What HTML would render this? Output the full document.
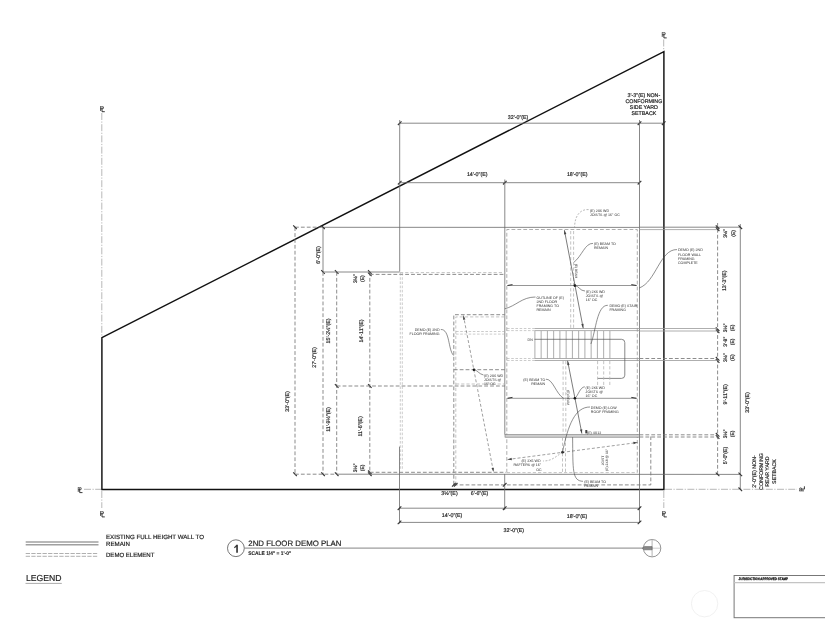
<!DOCTYPE html>
<html><head><meta charset="utf-8"><style>
html,body{margin:0;padding:0;background:#fff;}
svg{display:block;filter:grayscale(1) blur(0.3px);}
text{font-family:"Liberation Sans",sans-serif;text-rendering:geometricPrecision;}
.t{fill:#222;stroke:#222;stroke-width:0.18;}
.tb{fill:#222;font-weight:bold;stroke:#222;stroke-width:0.1;}
.pl{fill:#222;font-family:"Liberation Sans",sans-serif;}
.plp{fill:none;stroke:#222;stroke-width:0.9;}
.k{fill:none;stroke:#111;stroke-width:1.45;}
.d{fill:none;stroke:#6a6a6a;stroke-width:0.8;}
.g{fill:none;stroke:#999;stroke-width:0.8;}
.dd{fill:none;stroke:#777;stroke-width:0.85;stroke-dasharray:3.8 2.1;}
.ld{fill:none;stroke:#b4b4b4;stroke-width:0.8;stroke-dasharray:3.2 2;}
.c{fill:none;stroke:#999;stroke-width:0.7;stroke-dasharray:7 1.5 1.2 1.5;}
.tk{fill:none;stroke:#333;stroke-width:1.1;}
.band{fill:#cfcfcf;stroke:#777;stroke-width:0.6;}
.lg{stroke:#a0a0a0;stroke-width:1.4;}
.lgd{stroke:#b0b0b0;stroke-width:1.0;stroke-dasharray:4.3 1.3;}
.ul{stroke:#888;stroke-width:0.7;}
.tl{stroke:#777;stroke-width:0.9;}
.cir{fill:none;stroke:#666;stroke-width:0.9;}
.cir2{fill:none;stroke:#666;stroke-width:0.7;}
.na{stroke:#aaa;stroke-width:0.9;}
.na2{stroke:#999;stroke-width:0.5;}
.naf{fill:#888;stroke:#555;stroke-width:0.5;}
.stamp{fill:none;stroke:#777;stroke-width:1.0;}
.stl{stroke:#c4c4c4;stroke-width:1.2;}
.st{stroke:#8a8a8a;stroke-width:0.7;}
.wl{fill:none;stroke:#555;stroke-width:0.7;}
.bm{fill:none;stroke:#8a8a8a;stroke-width:0.9;}
.bma{fill:none;stroke:#333;stroke-width:1.0;}
.ar{stroke:#444;stroke-width:0.7;}
.ah{fill:#444;}
.da{stroke:#777;stroke-width:0.7;stroke-dasharray:3 2;}
.lea{fill:none;stroke:#444;stroke-width:0.6;}
.ldd{fill:none;stroke:#888;stroke-width:0.6;stroke-dasharray:2 1.5;}
.ld2{fill:none;stroke:#aaa;stroke-width:0.6;stroke-dasharray:2.6 1.6;}
.dm{fill:none;stroke:#999;stroke-width:0.8;stroke-dasharray:3.8 2.1;}
.tb2{fill:#111;font-weight:bold;stroke:#111;stroke-width:0.25;}
.ta{fill:#2a2a2a;}
.wm{fill:none;stroke:#eee;stroke-width:0.8;}
</style></head><body>
<svg width="825" height="625" viewBox="0 0 825 625">
<path d="M101.9 337.7 L663.9 51.6 L663.9 489.5 L101.9 489.5 Z" class="k"/>
<line x1="101.8" y1="113" x2="101.8" y2="337" class="c"/>
<line x1="663.7" y1="39.5" x2="663.7" y2="51" class="c"/>
<line x1="84" y1="489.3" x2="101" y2="489.3" class="c"/>
<line x1="101.8" y1="491" x2="101.8" y2="508" class="c"/>
<line x1="663.8" y1="491" x2="663.8" y2="508" class="c"/>
<line x1="665" y1="489.3" x2="797" y2="489.3" class="c"/>
<g><text x="101.8" y="110.89999999999999" font-size="7" text-anchor="middle" class="pl">P</text><path d="M102.0 107.3 L102.0 111.7 L104.8 111.7" class="plp"/></g>
<g><text x="663.7" y="37.1" font-size="7" text-anchor="middle" class="pl">P</text><path d="M663.9000000000001 33.5 L663.9000000000001 37.9 L666.7 37.9" class="plp"/></g>
<g><text x="79.5" y="491.8" font-size="7" text-anchor="middle" class="pl">P</text><path d="M79.7 488.2 L79.7 492.59999999999997 L82.5 492.59999999999997" class="plp"/></g>
<g><text x="101.8" y="516.1" font-size="7" text-anchor="middle" class="pl">P</text><path d="M102.0 512.5 L102.0 516.9 L104.8 516.9" class="plp"/></g>
<g><text x="663.8" y="516.1" font-size="7" text-anchor="middle" class="pl">P</text><path d="M664.0 512.5 L664.0 516.9 L666.8 516.9" class="plp"/></g>
<g transform="rotate(-90 801 489.3)"><text x="801" y="491.90000000000003" font-size="7" text-anchor="middle" class="pl">P</text><path d="M801.2 488.3 L801.2 492.7 L804 492.7" class="plp"/></g>
<line x1="399.7" y1="123.2" x2="663.7" y2="123.2" class="d"/>
<line x1="397.9" y1="125.0" x2="401.5" y2="121.4" class="tk"/>
<line x1="637.7" y1="125.0" x2="641.3" y2="121.4" class="tk"/>
<line x1="661.9000000000001" y1="125.0" x2="665.5" y2="121.4" class="tk"/>
<line x1="399.7" y1="182.7" x2="639.5" y2="182.7" class="d"/>
<line x1="397.9" y1="184.5" x2="401.5" y2="180.89999999999998" class="tk"/>
<line x1="503.0" y1="184.5" x2="506.6" y2="180.89999999999998" class="tk"/>
<line x1="637.7" y1="184.5" x2="641.3" y2="180.89999999999998" class="tk"/>
<line x1="399.7" y1="120" x2="399.7" y2="271.5" class="d"/>
<line x1="639.5" y1="120" x2="639.5" y2="227.2" class="d"/>
<line x1="504.8" y1="179.5" x2="504.8" y2="434.5" class="d"/>
<text x="518.1" y="119.2" font-size="5.3" text-anchor="middle" class="t">32'-0"(E)</text>
<text x="477.2" y="176" font-size="5.3" text-anchor="middle" class="t">14'-0"(E)</text>
<text x="577.2" y="176" font-size="5.3" text-anchor="middle" class="t">18'-0"(E)</text>
<text x="643.9" y="96.7" font-size="5.3" text-anchor="middle" class="t">3'-3"(E) NON-</text>
<text x="643.9" y="102.87" font-size="5.3" text-anchor="middle" class="t">CONFORMING</text>
<text x="643.9" y="109.04" font-size="5.3" text-anchor="middle" class="t">SIDE YARD</text>
<text x="643.9" y="115.21000000000001" font-size="5.3" text-anchor="middle" class="t">SETBACK</text>
<line x1="295" y1="227.2" x2="323" y2="227.2" class="dd"/>
<line x1="323" y1="227.3" x2="639.5" y2="227.4" class="d"/>
<line x1="295" y1="227.2" x2="295" y2="474.2" class="dd"/>
<line x1="293.2" y1="225.39999999999998" x2="296.8" y2="229.0" class="tk"/>
<line x1="293.2" y1="472.4" x2="296.8" y2="476.0" class="tk"/>
<line x1="323" y1="227.2" x2="323" y2="272" class="d"/>
<line x1="321.2" y1="225.39999999999998" x2="324.8" y2="229.0" class="tk"/>
<line x1="321.2" y1="270.2" x2="324.8" y2="273.8" class="tk"/>
<line x1="323" y1="272" x2="323" y2="474.2" class="dd"/>
<line x1="321.2" y1="472.4" x2="324.8" y2="476.0" class="tk"/>
<line x1="336.7" y1="272" x2="336.7" y2="474.2" class="dd"/>
<line x1="334.9" y1="270.2" x2="338.5" y2="273.8" class="tk"/>
<line x1="334.9" y1="384.2" x2="338.5" y2="387.8" class="tk"/>
<line x1="334.9" y1="472.4" x2="338.5" y2="476.0" class="tk"/>
<line x1="369.8" y1="272" x2="369.8" y2="474.2" class="dd"/>
<line x1="368.0" y1="270.2" x2="371.6" y2="273.8" class="tk"/>
<line x1="368.0" y1="272.59999999999997" x2="371.6" y2="276.2" class="tk"/>
<line x1="368.0" y1="384.2" x2="371.6" y2="387.8" class="tk"/>
<line x1="368.0" y1="470.5" x2="371.6" y2="474.1" class="tk"/>
<line x1="368.0" y1="472.4" x2="371.6" y2="476.0" class="tk"/>
<line x1="323" y1="272" x2="399.7" y2="272" class="d"/>
<line x1="369.8" y1="274.4" x2="505" y2="274.4" class="dd"/>
<line x1="400" y1="272.6" x2="505" y2="272.6" class="ld"/>
<line x1="336.7" y1="386" x2="505" y2="386" class="dd"/>
<line x1="295" y1="474.2" x2="336.7" y2="474.2" class="dd"/>
<line x1="336.7" y1="474.2" x2="740.3" y2="474.4" class="d"/>
<line x1="369.8" y1="472.3" x2="506" y2="472.3" class="dd"/>
<text x="289" y="401.5" font-size="5.3" text-anchor="middle" class="t" transform="rotate(-90 289 401.5)">33'-0"(E)</text>
<text x="319.5" y="255" font-size="5.3" text-anchor="middle" class="t" transform="rotate(-90 319.5 255)">6'-0"(E)</text>
<text x="316.3" y="357.5" font-size="5.3" text-anchor="middle" class="t" transform="rotate(-90 316.3 357.5)">27'-0"(E)</text>
<text x="330" y="331" font-size="5.3" text-anchor="middle" class="t" transform="rotate(-90 330 331)">15'-2&#189;"(E)</text>
<text x="330.4" y="419.4" font-size="5.3" text-anchor="middle" class="t" transform="rotate(-90 330.4 419.4)">11'-9&#189;"(E)</text>
<text x="363.3" y="331" font-size="5.3" text-anchor="middle" class="t" transform="rotate(-90 363.3 331)">14'-11"(E)</text>
<text x="362.1" y="426.4" font-size="5.3" text-anchor="middle" class="t" transform="rotate(-90 362.1 426.4)">11'-6"(E)</text>
<text x="357.4" y="278.6" font-size="5.0" text-anchor="middle" class="t" transform="rotate(-90 357.4 278.6)">3&#189;"</text>
<text x="364.2" y="278.6" font-size="5.0" text-anchor="middle" class="t" transform="rotate(-90 364.2 278.6)">(E)</text>
<text x="357.4" y="467.8" font-size="5.0" text-anchor="middle" class="t" transform="rotate(-90 357.4 467.8)">3&#189;"</text>
<text x="364.2" y="467.8" font-size="5.0" text-anchor="middle" class="t" transform="rotate(-90 364.2 467.8)">(E)</text>
<line x1="400.3" y1="273" x2="400.3" y2="470.5" class="ld2"/>
<line x1="402.3" y1="273" x2="402.3" y2="470.5" class="ld2"/>
<line x1="639.5" y1="227.2" x2="639.5" y2="523" class="d"/>
<path d="M506.8 472.6 L506.8 229.5 L637.3 229.5 L637.3 472.6" class="dm"/>
<line x1="506.8" y1="472.6" x2="637.3" y2="472.6" class="ld"/>
<rect x="505" y="434.6" width="134.5" height="2.6" class="band"/>
<path d="M453.8 484.6 L453.8 314.7 L504.8 314.7" class="dd"/>
<path d="M455.8 484.6 L455.8 316.9 L504.8 316.9" class="ld"/>
<line x1="456" y1="331.5" x2="504.8" y2="331.5" class="ld2"/>
<line x1="456" y1="334.1" x2="504.8" y2="334.1" class="ld2"/>
<line x1="453.8" y1="369.7" x2="504.8" y2="369.7" class="dd"/>
<line x1="456" y1="384" x2="504.8" y2="384" class="ld"/>
<path d="M453.8 484.9 L650.8 484.9 L650.8 436.5" class="dd"/>
<line x1="504.7" y1="474" x2="504.7" y2="510" class="d"/>
<line x1="399.5" y1="446.6" x2="399.5" y2="523.5" class="d"/>
<line x1="399.5" y1="508.2" x2="639.5" y2="508.2" class="d"/>
<line x1="397.7" y1="510.0" x2="401.3" y2="506.4" class="tk"/>
<line x1="502.9" y1="510.0" x2="506.5" y2="506.4" class="tk"/>
<line x1="637.7" y1="510.0" x2="641.3" y2="506.4" class="tk"/>
<line x1="399.5" y1="522.4" x2="639.5" y2="522.4" class="d"/>
<line x1="397.7" y1="524.1999999999999" x2="401.3" y2="520.6" class="tk"/>
<line x1="637.7" y1="524.1999999999999" x2="641.3" y2="520.6" class="tk"/>
<line x1="452.0" y1="486.6" x2="455.6" y2="483.0" class="tk"/>
<line x1="453.9" y1="486.6" x2="457.5" y2="483.0" class="tk"/>
<line x1="502.9" y1="486.6" x2="506.5" y2="483.0" class="tk"/>
<text x="452.1" y="517" font-size="5.3" text-anchor="middle" class="t">14'-0"(E)</text>
<text x="577" y="517.5" font-size="5.3" text-anchor="middle" class="t">18'-0"(E)</text>
<text x="513.8" y="531.5" font-size="5.3" text-anchor="middle" class="t">32'-0"(E)</text>
<text x="449.5" y="494.5" font-size="5.3" text-anchor="middle" class="t">3&#189;"(E)</text>
<text x="479.5" y="494.5" font-size="5.3" text-anchor="middle" class="t">6'-6"(E)</text>
<line x1="639.5" y1="227.2" x2="740.5" y2="227.2" class="d"/>
<line x1="639.5" y1="229.6" x2="717.6" y2="229.6" class="g"/>
<line x1="717.6" y1="223" x2="717.6" y2="474.4" class="dd"/>
<line x1="740.3" y1="224" x2="740.3" y2="489.5" class="d"/>
<line x1="715.8000000000001" y1="225.39999999999998" x2="719.4" y2="229.0" class="tk"/>
<line x1="715.8000000000001" y1="227.39999999999998" x2="719.4" y2="231.0" class="tk"/>
<line x1="738.5" y1="225.39999999999998" x2="742.0999999999999" y2="229.0" class="tk"/>
<line x1="715.8000000000001" y1="327.4" x2="719.4" y2="331.0" class="tk"/>
<line x1="715.8000000000001" y1="329.5" x2="719.4" y2="333.1" class="tk"/>
<line x1="715.8000000000001" y1="357.0" x2="719.4" y2="360.6" class="tk"/>
<line x1="715.8000000000001" y1="359.2" x2="719.4" y2="362.8" class="tk"/>
<line x1="715.8000000000001" y1="433.0" x2="719.4" y2="436.6" class="tk"/>
<line x1="715.8000000000001" y1="435.2" x2="719.4" y2="438.8" class="tk"/>
<line x1="715.8000000000001" y1="472.59999999999997" x2="719.4" y2="476.2" class="tk"/>
<line x1="738.5" y1="472.59999999999997" x2="742.0999999999999" y2="476.2" class="tk"/>
<line x1="738.5" y1="487.5" x2="742.0999999999999" y2="491.1" class="tk"/>
<line x1="639.5" y1="328.5" x2="717.6" y2="328.5" class="g"/>
<line x1="639.5" y1="331" x2="717.6" y2="331" class="g"/>
<line x1="639.5" y1="358.5" x2="717.6" y2="358.5" class="dd"/>
<line x1="639.5" y1="360.5" x2="717.6" y2="360.5" class="g"/>
<line x1="639.5" y1="434.8" x2="717.6" y2="434.8" class="dd"/>
<line x1="639.5" y1="437" x2="717.6" y2="437" class="dd"/>
<text x="726.9" y="233.4" font-size="5.0" text-anchor="middle" class="t" transform="rotate(-90 726.9 233.4)">3&#189;"</text>
<text x="735.1" y="233.4" font-size="5.0" text-anchor="middle" class="t" transform="rotate(-90 735.1 233.4)">(E)</text>
<text x="725.7" y="280.8" font-size="5.3" text-anchor="middle" class="t" transform="rotate(-90 725.7 280.8)">13'-3"(E)</text>
<text x="726.6" y="327.9" font-size="5.0" text-anchor="middle" class="t" transform="rotate(-90 726.6 327.9)">3&#189;"</text>
<text x="734.3" y="327.9" font-size="5.0" text-anchor="middle" class="t" transform="rotate(-90 734.3 327.9)">(E)</text>
<text x="726.6" y="341.8" font-size="5.0" text-anchor="middle" class="t" transform="rotate(-90 726.6 341.8)">3'-8"</text>
<text x="734.3" y="341.8" font-size="5.0" text-anchor="middle" class="t" transform="rotate(-90 734.3 341.8)">(E)</text>
<text x="726.6" y="357.6" font-size="5.0" text-anchor="middle" class="t" transform="rotate(-90 726.6 357.6)">3&#189;"</text>
<text x="734.3" y="357.6" font-size="5.0" text-anchor="middle" class="t" transform="rotate(-90 734.3 357.6)">(E)</text>
<text x="727.3" y="394.3" font-size="5.3" text-anchor="middle" class="t" transform="rotate(-90 727.3 394.3)">9'-11"(E)</text>
<text x="726.6" y="433.8" font-size="5.0" text-anchor="middle" class="t" transform="rotate(-90 726.6 433.8)">3&#189;"</text>
<text x="734.3" y="433.8" font-size="5.0" text-anchor="middle" class="t" transform="rotate(-90 734.3 433.8)">(E)</text>
<text x="727.3" y="455.5" font-size="5.3" text-anchor="middle" class="t" transform="rotate(-90 727.3 455.5)">5'-0"(E)</text>
<text x="749" y="402.5" font-size="5.3" text-anchor="middle" class="t" transform="rotate(-90 749 402.5)">33'-0"(E)</text>
<text x="756.0" y="471.5" font-size="5.3" text-anchor="middle" class="t" transform="rotate(-90 756.0 471.5)">2'-0"(E) NON-</text>
<text x="762.5" y="471.5" font-size="5.3" text-anchor="middle" class="t" transform="rotate(-90 762.5 471.5)">CONFORMING</text>
<text x="769.0" y="471.5" font-size="5.3" text-anchor="middle" class="t" transform="rotate(-90 769.0 471.5)">REAR YARD</text>
<text x="775.5" y="471.5" font-size="5.3" text-anchor="middle" class="t" transform="rotate(-90 775.5 471.5)">SETBACK</text>
<line x1="534.9" y1="330.9" x2="534.9" y2="358.5" class="st"/>
<line x1="541.15" y1="330.9" x2="541.15" y2="358.5" class="st"/>
<line x1="547.4" y1="330.9" x2="547.4" y2="358.5" class="st"/>
<line x1="553.65" y1="330.9" x2="553.65" y2="358.5" class="st"/>
<line x1="559.9" y1="330.9" x2="559.9" y2="358.5" class="st"/>
<line x1="566.15" y1="330.9" x2="566.15" y2="358.5" class="st"/>
<line x1="572.4" y1="330.9" x2="572.4" y2="358.5" class="st"/>
<line x1="578.65" y1="330.9" x2="578.65" y2="358.5" class="st"/>
<line x1="584.9" y1="330.9" x2="584.9" y2="358.5" class="st"/>
<line x1="591.15" y1="330.9" x2="591.15" y2="358.5" class="st"/>
<line x1="597.4" y1="330.9" x2="597.4" y2="358.5" class="st"/>
<line x1="603.65" y1="330.9" x2="603.65" y2="358.5" class="st"/>
<line x1="609.9" y1="330.9" x2="609.9" y2="358.5" class="st"/>
<line x1="534.5" y1="328.5" x2="639.5" y2="328.5" class="g"/>
<line x1="534.5" y1="330.6" x2="639.5" y2="330.6" class="g"/>
<line x1="534.5" y1="358.5" x2="639.5" y2="358.5" class="g"/>
<line x1="534.5" y1="360.5" x2="639.5" y2="360.5" class="g"/>
<line x1="507" y1="328.5" x2="534.5" y2="328.5" class="ld2"/>
<line x1="507" y1="330.6" x2="534.5" y2="330.6" class="ld2"/>
<line x1="507" y1="358.5" x2="534.5" y2="358.5" class="ld2"/>
<line x1="507" y1="360.5" x2="534.5" y2="360.5" class="ld2"/>
<path d="M534.5 339.3 L621.5 339.3 Q624.8 339.3 624.8 342.6 L624.8 375.2 Q624.8 378.4 621.5 378.4 L597.6 378.4" class="wl"/>
<text x="530.2" y="340.6" font-size="3.6" text-anchor="middle" class="ta">DN</text>
<line x1="570.7" y1="231" x2="570.7" y2="328.5" class="ld"/>
<line x1="573.6" y1="231" x2="573.6" y2="328.5" class="ld"/>
<line x1="563.1" y1="361" x2="563.1" y2="434" class="ld"/>
<line x1="565.8" y1="361" x2="565.8" y2="434" class="ld"/>
<line x1="597.6" y1="361" x2="597.6" y2="387" class="ld"/>
<line x1="603.7" y1="361" x2="603.7" y2="387" class="ld"/>
<line x1="609.8" y1="361" x2="609.8" y2="387" class="ld"/>
<line x1="562.5" y1="437.5" x2="562.5" y2="472.5" class="ld"/>
<line x1="565.5" y1="437.5" x2="565.5" y2="472.5" class="ld"/>
<line x1="507.5" y1="285.5" x2="636.5" y2="285.5" class="bm"/>
<line x1="507.5" y1="398.3" x2="636.5" y2="398.3" class="bm"/>
<path d="M507.5 285.5 L512.5 284.6" class="bma"/>
<path d="M636.5 285.5 L631.3 284.6" class="bma"/>
<path d="M507.5 398.3 L512.5 397.4" class="bma"/>
<path d="M636.5 398.3 L631.3 397.4" class="bma"/>
<line x1="564.4" y1="230.2" x2="583.2" y2="328.2" class="ar"/>
<path d="M564.40 230.20 L566.37 234.10 L564.01 234.55 Z" class="ah"/>
<path d="M583.20 328.20 L581.23 324.30 L583.59 323.85 Z" class="ah"/>
<line x1="567.6" y1="360.8" x2="581.9" y2="433.6" class="ar"/>
<path d="M567.60 360.80 L569.59 364.69 L567.23 365.15 Z" class="ah"/>
<path d="M581.90 433.60 L579.91 429.71 L582.27 429.25 Z" class="ah"/>
<line x1="463.4" y1="315.5" x2="493.5" y2="472" class="da"/>
<path d="M463.40 315.50 L465.37 319.40 L463.01 319.85 Z" class="ah"/>
<path d="M493.50 472.00 L491.53 468.10 L493.89 467.65 Z" class="ah"/>
<line x1="507.6" y1="459.5" x2="637.6" y2="442.5" class="da"/>
<path d="M507.60 459.50 L511.61 457.77 L511.92 460.15 Z" class="ah"/>
<path d="M637.60 442.50 L633.59 444.23 L633.28 441.85 Z" class="ah"/>
<circle cx="574.9" cy="285.6" r="1.3" fill="#111"/>
<circle cx="474" cy="369.7" r="1.3" fill="#111"/>
<circle cx="574.9" cy="398.3" r="1.3" fill="#111"/>
<circle cx="562.5" cy="452.3" r="1.3" fill="#111"/>
<path d="M588.6 209.6 C580 209 574.6 216 574.6 227.5" class="ldd"/>
<path d="M593 243.4 C585 243 582 256 573.8 262.4" class="lea"/>
<path d="M677 249.6 C660 249 656 282 639.2 288" class="lea"/>
<path d="M574.9 285.6 C579 286 580 291 585 291" class="lea"/>
<path d="M535.5 297 C522 297 516 306 504.8 308.8" class="lea"/>
<path d="M607.8 305.3 C597 305 596 330 590.9 344" class="lea"/>
<path d="M440.8 329.5 C450 329 448 350 453.6 355.5" class="lea"/>
<path d="M474 369.7 C477 370 479 374 483.5 375" class="lea"/>
<path d="M546 379.2 C553 379 556 394 563.6 398.3" class="lea"/>
<path d="M574.9 398.3 C578 396 580 387 584.8 386.8" class="lea"/>
<path d="M590 407 C575 407 568 425 562.5 452.3" class="lea"/>
<path d="M562.5 452.3 C555 457 552 461 543 461" class="ldd"/>
<path d="M583 481.3 C572 481 573 470 572.6 437.2" class="lea"/>
<text x="589.9" y="211.7" font-size="3.6" text-anchor="start" class="ta">(E) 2X6 WD</text>
<text x="589.9" y="215.9" font-size="3.6" text-anchor="start" class="ta">JOISTS @ 16" OC</text>
<text x="594" y="245.2" font-size="3.6" text-anchor="start" class="ta">(E) BEAM TO</text>
<text x="594" y="249.4" font-size="3.6" text-anchor="start" class="ta">REMAIN</text>
<text x="678" y="251.3" font-size="3.6" text-anchor="start" class="ta">DEMO (E) 2ND</text>
<text x="678" y="255.5" font-size="3.6" text-anchor="start" class="ta">FLOOR WALL</text>
<text x="678" y="259.7" font-size="3.6" text-anchor="start" class="ta">FRAMING</text>
<text x="678" y="263.9" font-size="3.6" text-anchor="start" class="ta">COMPLETE</text>
<text x="585.8" y="292.6" font-size="3.6" text-anchor="start" class="ta">(E) 2X6 WD</text>
<text x="585.8" y="296.8" font-size="3.6" text-anchor="start" class="ta">JOISTS @</text>
<text x="585.8" y="301.0" font-size="3.6" text-anchor="start" class="ta">16" OC</text>
<text x="536.5" y="298.6" font-size="3.6" text-anchor="start" class="ta">OUTLINE OF (E)</text>
<text x="536.5" y="302.8" font-size="3.6" text-anchor="start" class="ta">2ND FLOOR</text>
<text x="536.5" y="307.0" font-size="3.6" text-anchor="start" class="ta">FRAMING TO</text>
<text x="536.5" y="311.2" font-size="3.6" text-anchor="start" class="ta">REMAIN</text>
<text x="609.4" y="307.0" font-size="3.6" text-anchor="start" class="ta">DEMO (E) STAIR</text>
<text x="609.4" y="311.2" font-size="3.6" text-anchor="start" class="ta">FRAMING</text>
<text x="439.5" y="331.1" font-size="3.6" text-anchor="end" class="ta">DEMO (E) 2ND</text>
<text x="439.5" y="335.3" font-size="3.6" text-anchor="end" class="ta">FLOOR FRAMING</text>
<text x="484" y="376.6" font-size="3.6" text-anchor="start" class="ta">(E) 2X6 WD</text>
<text x="484" y="380.8" font-size="3.6" text-anchor="start" class="ta">JOISTS @</text>
<text x="484" y="385.0" font-size="3.6" text-anchor="start" class="ta">16" OC</text>
<text x="545.2" y="380.8" font-size="3.6" text-anchor="end" class="ta">(E) BEAM TO</text>
<text x="545.2" y="385.0" font-size="3.6" text-anchor="end" class="ta">REMAIN</text>
<text x="585.6" y="388.9" font-size="3.6" text-anchor="start" class="ta">(E) 2X6 WD</text>
<text x="585.6" y="393.1" font-size="3.6" text-anchor="start" class="ta">JOISTS @</text>
<text x="585.6" y="397.3" font-size="3.6" text-anchor="start" class="ta">16" OC</text>
<text x="590.8" y="408.6" font-size="3.6" text-anchor="start" class="ta">DEMO (E) LOW</text>
<text x="590.8" y="412.8" font-size="3.6" text-anchor="start" class="ta">ROOF FRAMING</text>
<text x="587" y="434.2" font-size="3.6" text-anchor="start" class="ta">(E) 4X12</text>
<text x="584.2" y="482.8" font-size="3.6" text-anchor="start" class="ta">(E) BEAM TO</text>
<text x="584.2" y="487.0" font-size="3.6" text-anchor="start" class="ta">REMAIN</text>
<text x="531" y="461.9" font-size="3.6" text-anchor="middle" class="ta">(E) 2X6 WD</text>
<text x="527.3" y="466.3" font-size="3.6" text-anchor="middle" class="ta">RAFTERS @ 16"</text>
<text x="538.9" y="470.7" font-size="3.6" text-anchor="middle" class="ta">OC</text>
<text x="574.9" y="271" font-size="3.3" text-anchor="middle" class="ta" transform="rotate(90 574.9 271)">(E) BEAM</text>
<text x="567.1" y="397.6" font-size="3.3" text-anchor="middle" class="ta" transform="rotate(90 567.1 397.6)">(E) BEAM</text>
<text x="603.6" y="460.5" font-size="3.4" text-anchor="middle" class="ta" transform="rotate(-90 603.6 460.5)">JOIST</text>
<text x="607.8" y="460" font-size="3.4" text-anchor="middle" class="ta" transform="rotate(-90 607.8 460)">(E) 2X8 @ 16"</text>
<rect x="585.3" y="430" width="2" height="3.4" fill="#444"/>
<line x1="25.7" y1="542.0" x2="98.5" y2="542.0" class="lg"/>
<line x1="25.7" y1="544.8" x2="98.5" y2="544.8" class="lg"/>
<line x1="25.7" y1="553.5" x2="98.5" y2="553.5" class="lgd"/>
<line x1="25.7" y1="556.3" x2="98.5" y2="556.3" class="lgd"/>
<text x="106" y="538.7" font-size="6.15" text-anchor="start" class="t" textLength="98" lengthAdjust="spacingAndGlyphs">EXISTING FULL HEIGHT WALL TO</text>
<text x="106" y="545.6" font-size="6.15" text-anchor="start" class="t">REMAIN</text>
<text x="106" y="557.3" font-size="6.15" text-anchor="start" class="t" textLength="48.4" lengthAdjust="spacingAndGlyphs">DEMO ELEMENT</text>
<text x="25.9" y="581.2" font-size="8.7" text-anchor="start" class="t" textLength="35.6" lengthAdjust="spacingAndGlyphs">LEGEND</text>
<line x1="25.5" y1="583.4" x2="61.8" y2="583.4" class="ul"/>
<circle cx="235.9" cy="548.2" r="8.4" class="cir"/>
<path d="M236.2 544.8 L237.9 544.8 L237.9 552.8 L236.2 552.8 L236.2 547.0 Q235.3 547.9 234.2 548.2 L234.2 546.9 Q235.6 546.2 236.2 544.8 Z" fill="#3a3a3a"/>
<text x="248.3" y="545.9" font-size="7.8" text-anchor="start" class="t" textLength="93.1" lengthAdjust="spacingAndGlyphs">2ND FLOOR DEMO PLAN</text>
<line x1="244.5" y1="548.1" x2="641.7" y2="548.1" class="tl"/>
<text x="248.3" y="555" font-size="5.4" text-anchor="start" class="tb" textLength="43" lengthAdjust="spacingAndGlyphs">SCALE 1/4" = 1'-0"</text>
<circle cx="652.1" cy="548.2" r="8.7" class="cir2"/>
<line x1="652.1" y1="539.5" x2="652.1" y2="557" class="na"/>
<line x1="643.5" y1="548.2" x2="660.8" y2="548.2" class="na2"/>
<path d="M641.7 548.2 L644.5 546.6 L652.1 546.6 L652.1 549.8 L644.5 549.8 Z" class="naf"/>
<rect x="734.1" y="575.5" width="100" height="42.2" class="stamp"/>
<line x1="734.1" y1="582.6" x2="825" y2="582.6" class="stl"/>
<text x="738.6" y="580.3" font-size="3.5" text-anchor="start" class="tb2" textLength="49.4" lengthAdjust="spacingAndGlyphs">JURISDICTION APPROVED STAMP</text>
<circle cx="704.6" cy="603.7" r="13.2" class="wm"/>
</svg>
</body></html>
